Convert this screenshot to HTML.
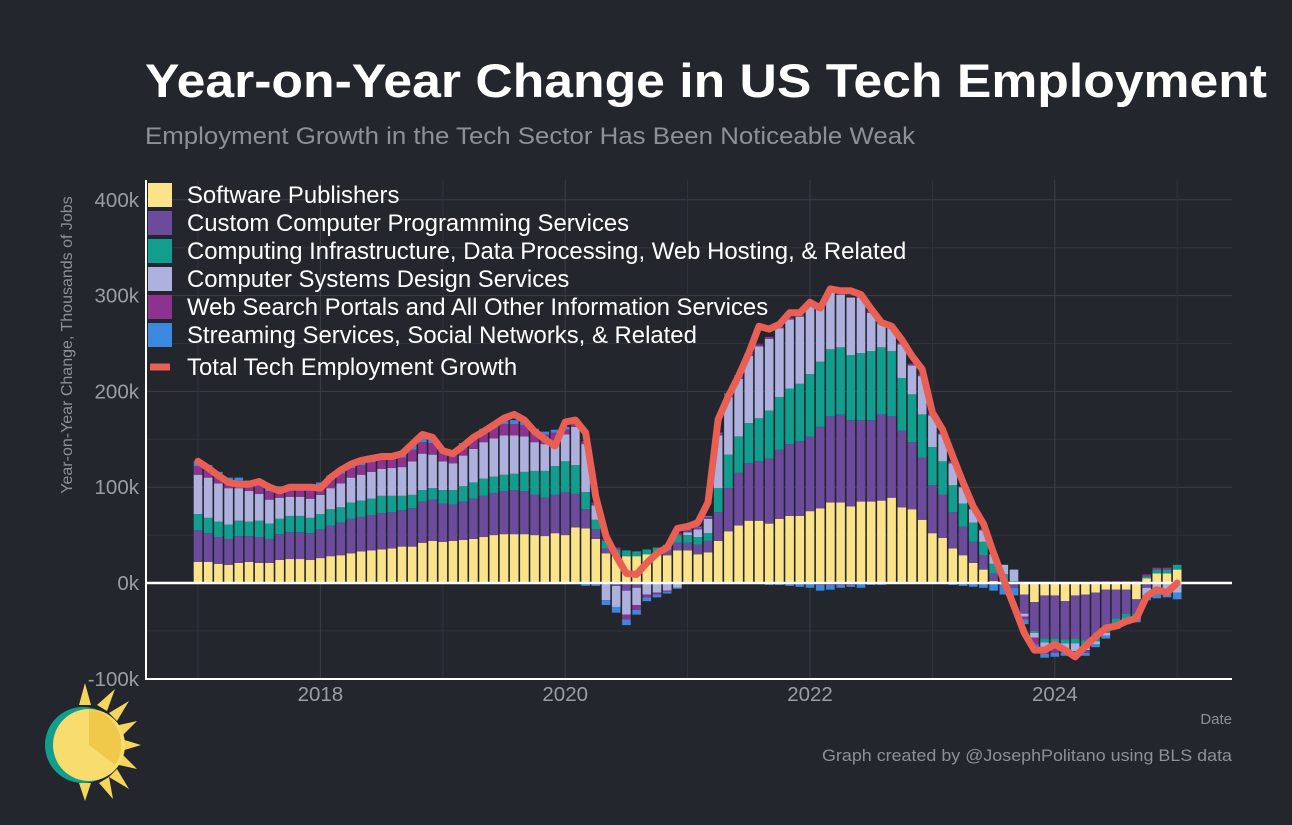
<!DOCTYPE html>
<html><head><meta charset="utf-8">
<style>
body{margin:0;background:#23262d;width:1292px;height:825px;overflow:hidden;font-family:"Liberation Sans",sans-serif;}
svg{display:block}
</style></head>
<body>
<svg id="chart" width="1292" height="825" xmlns="http://www.w3.org/2000/svg">
<rect width="1292" height="825" fill="#23262d"/>
<text x="145" y="97" fill="#ffffff" font-size="47" font-weight="bold" textLength="1122" lengthAdjust="spacingAndGlyphs">Year-on-Year Change in US Tech Employment</text>
<text x="145" y="144" fill="#8d9096" font-size="24" textLength="770" lengthAdjust="spacingAndGlyphs">Employment Growth in the Tech Sector Has Been Noticeable Weak</text>
<text transform="translate(72,345) rotate(-90)" text-anchor="middle" fill="#8d9096" font-size="16">Year-on-Year Change, Thousands of Jobs</text>
<text x="1232" y="724" text-anchor="end" fill="#8d9096" font-size="15">Date</text>
<text x="1232" y="761" text-anchor="end" fill="#8d9096" font-size="17" textLength="410" lengthAdjust="spacingAndGlyphs">Graph created by @JosephPolitano using BLS data</text>
<g id="grid"></g>
<g id="bars"></g>
<g id="axes"></g>
<g id="legend"></g>
<g transform="translate(85,745)">
  <g fill="#f5d55a">
    <polygon points="0,-62 6,-40 -6,-40"/><polygon points="44,-44 32,-24 24,-32"/><polygon points="56,0 36,6 36,-6"/>
    <polygon points="44,44 24,32 32,24"/><polygon points="0,56 -6,38 6,38"/><polygon points="30,-56 22,-34 12,-40"/>
    <polygon points="52,-24 38,-10 34,-20"/><polygon points="52,24 34,20 38,10"/><polygon points="28,54 14,38 24,32"/>
  </g>
  <circle cx="-2" cy="0" r="38" fill="#129e8c"/>
  <circle cx="4" cy="0" r="36" fill="#f8dc6e"/>
  <path d="M4,-36 A36,36 0 0 1 30,20 L4,0 Z" fill="#f0c84a"/>
</g>
</svg>
<script>
const Y=[22,22,20,19,21,22,21,21,24,25,25,24, 26,28,29,31,33,34,35,36,38,38,42,44, 43,44,45,46,48,50,51,51,51,50,49,52, 50,58,57,46,31,28,28,28,30,30,29,34, 34,30,32,44,54,60,65,65,62,67,70,70, 75,78,84,84,80,85,85,86,89,79,77,66, 52,47,36,29,21,14,2,0,0,-12,-20,-13, -13,-19,-13,-12,-10,-7,-7,-7,-17,5,10,10, 14];
const P=[33,30,28,27,28,27,27,25,27,28,28,28, 30,32,34,36,36,37,38,38,38,40,43,43, 40,38,40,42,43,44,45,46,45,42,40,40, 45,35,20,10,5,-3,-8,-5,0,2,5,8, 8,10,12,30,45,55,60,62,68,72,75,78, 78,85,90,92,90,85,85,90,85,80,70,65, 50,45,38,30,22,15,8,3,-5,-20,-30,-45, -45,-40,-45,-48,-45,-40,-30,-25,-15,-5,0,0, 0];
const T=[17,16,16,15,16,15,17,16,16,17,17,16, 16,17,16,17,17,17,18,17,15,14,12,12, 14,15,16,17,18,17,17,17,20,25,28,30, 32,30,18,10,8,7,6,5,5,5,6,8, 8,8,8,25,35,38,42,45,50,55,58,60, 65,68,70,70,68,70,72,70,68,55,50,45, 40,35,28,24,20,14,10,6,2,0,-2,-4, -5,-4,-5,-5,-6,-5,-5,-5,-3,2,4,4, 5];
const L=[41,42,40,38,34,32,28,25,22,20,20,20, 20,22,25,26,27,28,28,29,30,35,38,35, 30,28,32,35,38,40,41,40,37,30,28,25, 28,40,50,15,-18,-22,-25,-18,-12,-10,-8,-5, 3,8,15,55,60,60,70,75,75,72,72,70, 72,60,62,55,60,58,40,25,25,35,30,40, 33,28,23,17,14,12,10,10,12,-3,-5,-5, -5,-6,-8,-5,-3,-3,-3,-3,-3,-8,-10,-8, -10];
const M=[9,9,9,8,8,8,9,9,9,9,9,9, 9,9,10,10,10,10,10,10,10,12,12,12, 10,10,10,10,10,11,12,12,12,11,10,10, 5,5,3,3,2,2,-5,-5,-3,-2,-1,2, 2,2,2,2,3,3,3,2,2,2,2,2, 2,-2,-2,-2,-2,2,2,2,2,2,2,2, 2,2,2,1,1,1,0,0,0,-3,-7,-7, -5,-4,-3,-3,2,2,2,2,2,2,2,2, 0];
const B=[5,4,3,3,3,3,3,3,3,3,4,4, 4,4,5,5,5,5,5,5,5,5,5,5, 3,3,3,3,4,4,4,4,3,3,3,3, 3,3,-3,-3,-5,-6,-6,-5,-4,-3,-2,-1, 1,1,1,1,1,1,-1,-1,-2,-2,-3,-4, -5,-6,-5,-3,-2,-5,-2,-2,-1,-1,-1,-1, -1,-1,-2,-3,-4,-5,-8,-12,-8,-5,-4,-4, -4,-3,-3,-3,-3,-3,-3,-3,-3,-5,-6,-7, -7];
const TOTAL=[127,120,112,105,103,103,106,100,96,100,100,100, 99,110,118,124,128,130,132,132,135,145,155,152, 138,135,143,152,158,165,172,176,170,158,150,143, 168,170,157,90,49,28,10,9,21,31,37,57, 59,63,84,171,195,216,240,268,265,270,282,282, 293,287,307,305,305,301,286,272,268,254,237,223, 178,160,132,105,80,62,31,3,-24,-52,-70,-70, -64,-70,-77,-66,-56,-47,-45,-40,-37,-14,-7,-10, 0];
const Y_TICKS=[-100,0,100,200,300,400];
const Y_TICK_LABELS=["-100k","0k","100k","200k","300k","400k"];
const X_TICKS=[2018,2020,2022,2024];
const SERIES_NAMES=["Software Publishers","Custom Computer Programming Services","Computing Infrastructure, Data Processing, Web Hosting, & Related","Computer Systems Design Services","Web Search Portals and All Other Information Services","Streaming Services, Social Networks, & Related"];
const COLORS=["#fbe38a","#6c4a9c","#119e8e","#aeb0dd","#8c3390","#3b88de"];
const ns="http://www.w3.org/2000/svg";
const x0=146,x1=1232,yTop=180,yBot=679;
const yS=v=>583-v*0.958;
const xS=d=>198+(d-2017)*122.4;
const mk=(t,a,p)=>{const e=document.createElementNS(ns,t);for(const k in a)e.setAttribute(k,a[k]);p.appendChild(e);return e;};
const grid=document.getElementById('grid');
for(let v=-100;v<=400;v+=50){const l=mk('line',{x1:x0,x2:x1,y1:yS(v),y2:yS(v),stroke:v%100?'#2f333b':'#3b3f47','stroke-width':1},grid);

}
for(let yr=2017;yr<=2025;yr++){const l=mk('line',{x1:xS(yr),x2:xS(yr),y1:yTop,y2:yBot,stroke:yr%2?'#2f333b':'#3b3f47','stroke-width':1},grid);

}
const bars=document.getElementById('bars');
const ser=[Y,P,T,L,M,B];
for(let i=0;i<Y.length;i++){
  const cx=xS(2017+i/12);let pos=0,neg=0;
  for(let s=0;s<ser.length;s++){const v=ser[s][i];if(!v)continue;let a,b;
    if(v>0){a=pos;b=pos+v;pos=b;}else{a=neg;b=neg+v;neg=b;}
    const r=mk('rect',{x:cx-4.3,width:8.6,y:Math.min(yS(a),yS(b)),height:Math.abs(yS(a)-yS(b)),fill:COLORS[s]},bars);
    
    }
}
const axes=document.getElementById('axes');
const z=mk('line',{x1:x0,x2:x1,y1:yS(0),y2:yS(0),stroke:'#fff','stroke-width':2.5},axes);


let d='';TOTAL.forEach((v,i)=>{d+=(i?'L':'M')+xS(2017+i/12).toFixed(1)+','+yS(v).toFixed(1);});
const ln=mk('path',{d:d,fill:'none',stroke:'#ea5f54','stroke-width':7,'stroke-linejoin':'round','stroke-linecap':'round'},axes);


const ax1=mk('path',{d:`M${x0},${yTop}V${yBot}H${x1}`,fill:'none',stroke:'#fff','stroke-width':2},axes);


Y_TICKS.forEach((v,i)=>{const t=mk('text',{x:139,y:yS(v)+7,'text-anchor':'end',fill:'#9a9da3','font-size':20.5},axes);t.textContent=Y_TICK_LABELS[i];

});
X_TICKS.forEach(v=>{const t=mk('text',{x:xS(v),y:701,'text-anchor':'middle',fill:'#9a9da3','font-size':20.5},axes);t.textContent=String(v);

});
const leg=document.getElementById('legend');
SERIES_NAMES.forEach((n,i)=>{const y=183+i*28;
  const r=mk('rect',{x:148,y:y,width:24,height:24,fill:COLORS[i]},leg);
  
  
  const t=mk('text',{x:187,y:y+20,fill:'#fff','font-size':23.9},leg);t.textContent=n;
  
  });
const lr=mk('line',{x1:150,x2:170,y1:367,y2:367,stroke:'#ea5f54','stroke-width':7},leg);


const lt=mk('text',{x:187,y:375,fill:'#fff','font-size':23.9},leg);lt.textContent="Total Tech Employment Growth";


</script>
</body></html>
